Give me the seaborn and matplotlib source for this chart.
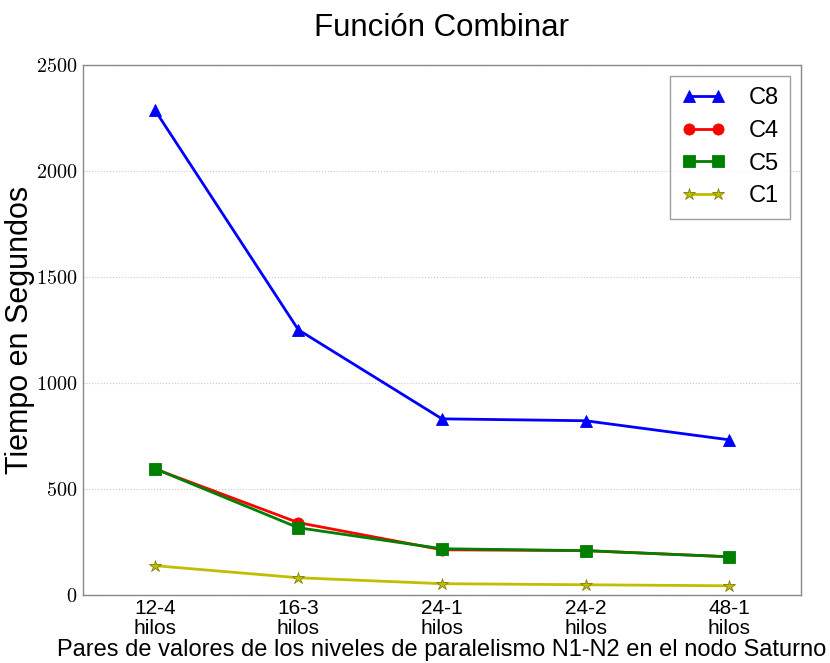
import matplotlib
matplotlib.use("Agg")
import matplotlib.pyplot as plt
from matplotlib.ticker import FuncFormatter
import seaborn as sns
import pandas as pd

# Thread-pair configurations (N1-N2) and timings in seconds
configs = ["12-4", "16-3", "24-1", "24-2", "48-1"]
c8 = [2288, 1250, 830, 821, 731]
c4 = [594, 340, 212, 208, 179]
c5 = [595, 316, 217, 208, 179]
c1 = [137, 80, 52, 47, 42]

series = [
    ("C8", c8, "#0000ff", "^", 8),
    ("C4", c4, "#ff0000", "o", 8),
    ("C5", c5, "#008000", "s", 8),
    ("C1", c1, "#bfbf00", "*", 9),
]

sns.set_style("white")
plt.rcParams["font.family"] = ["Liberation Sans", "DejaVu Sans"]
plt.rcParams["mathtext.fontset"] = "cm"
plt.rcParams["text.color"] = "black"
plt.rcParams["axes.labelcolor"] = "black"
plt.rcParams["xtick.color"] = "black"
plt.rcParams["ytick.color"] = "black"

fig, ax = plt.subplots(figsize=(8.3, 6.63), dpi=100)
fig.subplots_adjust(left=0.1, right=0.965, top=0.902, bottom=0.103)

xpos = list(range(len(configs)))
for name, vals, color, marker, ms in series:
    df = pd.DataFrame({"x": xpos, "y": vals})
    sns.lineplot(
        data=df, x="x", y="y", ax=ax, color=color, marker=marker,
        markersize=ms, linewidth=2, label=name,
        markeredgecolor=("#808000" if marker == "*" else color),
        markeredgewidth=0.6,
    )

ax.set_xlim(-0.5, 4.5)
ax.set_ylim(0, 2500)
ax.set_yticks(range(0, 2501, 500))
ax.yaxis.set_major_formatter(FuncFormatter(lambda v, p: f"${int(v)}$"))
ax.set_xticks(xpos)
ax.set_xticklabels([f"{c}\nhilos" for c in configs], fontsize=15, linespacing=1.05)
ax.tick_params(axis="y", labelsize=14.5, length=3, color="#888888", direction="out", pad=1)
ax.tick_params(axis="x", length=3, color="#888888", direction="out", pad=0)

ax.yaxis.grid(True, linestyle=":", color="#c8c8c8", linewidth=0.8)
ax.xaxis.grid(False)
for sp in ax.spines.values():
    sp.set_color("#888888")
    sp.set_linewidth(1.0)

ax.set_title("Función Combinar", fontsize=22.5, pad=21)
ax.set_ylabel("Tiempo en Segundos", fontsize=22)
ax.yaxis.set_label_coords(-0.067, 0.5)
ax.set_xlabel("Pares de valores de los niveles de paralelismo N1-N2 en el nodo Saturno",
              fontsize=17, labelpad=1)

leg = ax.legend(loc="upper right", fontsize=17, numpoints=2, frameon=True,
                fancybox=False, borderpad=0.5, handlelength=1.8, labelspacing=0.45,
                handletextpad=1.0, borderaxespad=0.45)
leg.get_frame().set_edgecolor("#888888")
leg.get_frame().set_linewidth(1.0)

fig.savefig("out.png", dpi=100)
